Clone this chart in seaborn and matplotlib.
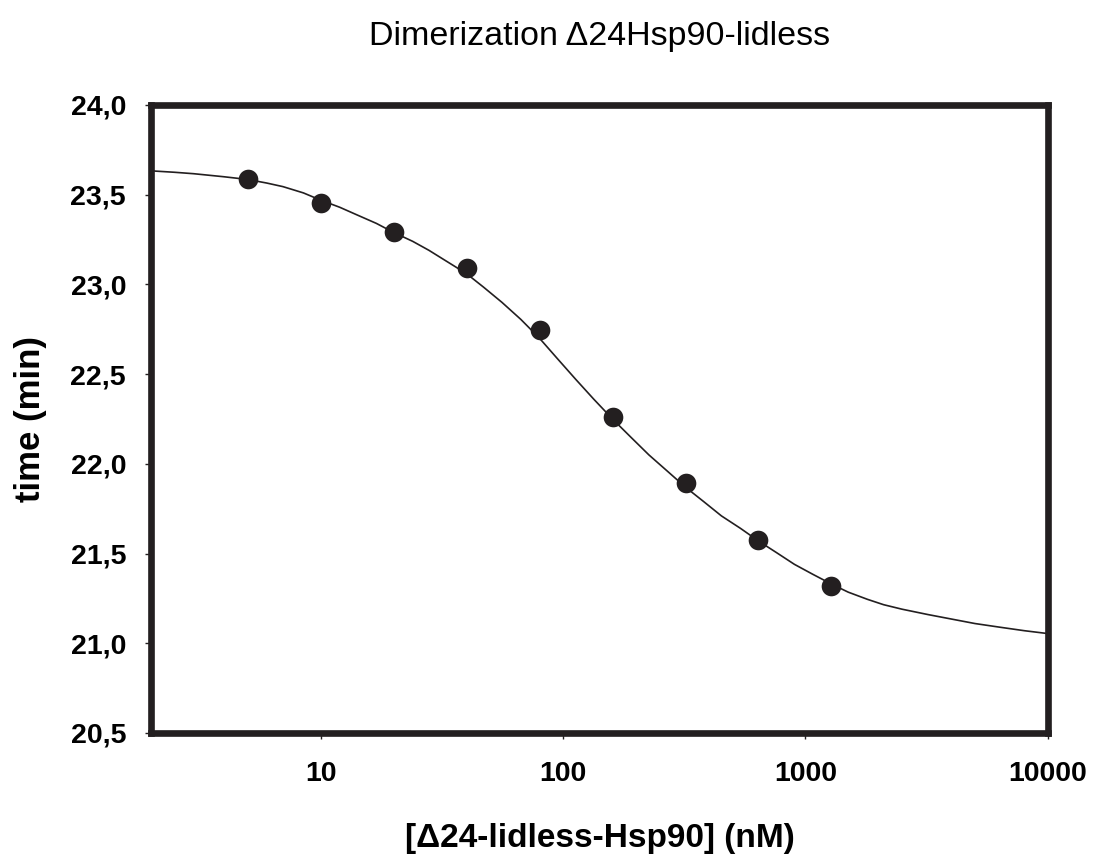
import matplotlib
matplotlib.use("Agg")
import matplotlib.pyplot as plt
import seaborn as sns
import pandas as pd

# measured points
conc = [5, 10, 20, 40, 80, 160, 320, 640, 1280]
time_min = [23.59, 23.456, 23.29, 23.09, 22.746, 22.262, 21.893, 21.576, 21.319]

# fitted curve
fit_conc = [2, 2.5, 3, 4, 5, 6, 7, 8.5, 10, 12, 14, 17, 20, 24, 28, 33, 40, 47,
            56, 67, 80, 95, 113, 134, 160, 190, 226, 269, 320, 380, 450, 540,
            640, 760, 900, 1070, 1280, 1500, 1800, 2100, 2500, 3200, 4000,
            5000, 6300, 8000, 10000]
fit_time = [23.633, 23.625, 23.617, 23.60, 23.585, 23.565, 23.545, 23.51,
            23.47, 23.43, 23.39, 23.34, 23.29, 23.24, 23.19, 23.13, 23.06,
            22.985, 22.90, 22.805, 22.70, 22.585, 22.47, 22.36, 22.25, 22.15,
            22.05, 21.96, 21.87, 21.79, 21.71, 21.64, 21.57, 21.505, 21.44,
            21.385, 21.33, 21.285, 21.245, 21.215, 21.19, 21.16, 21.135, 21.11,
            21.09, 21.07, 21.054]

y_ticks = [20.5, 21.0, 21.5, 22.0, 22.5, 23.0, 23.5, 24.0]
y_tick_labels = ["20,5", "21,0", "21,5", "22,0", "22,5", "23,0", "23,5", "24,0"]
x_ticks = [10, 100, 1000, 10000]
x_tick_labels = ["10", "100", "1000", "10000"]

ink = "#231f20"

sns.set_theme(style="ticks")
plt.rcParams["font.family"] = ["Liberation Sans", "DejaVu Sans"]

df = pd.DataFrame({"conc": conc, "time": time_min})
fit = pd.DataFrame({"conc": fit_conc, "time": fit_time})

fig = plt.figure(figsize=(10.93, 8.55), dpi=100)
ax = fig.add_axes([0.1382, 0.1427, 0.8206, 0.7345])

sns.lineplot(data=fit, x="conc", y="time", ax=ax, color=ink, linewidth=1.2,
             zorder=2, sort=False)
sns.scatterplot(data=df, x="conc", y="time", ax=ax, color=ink, s=200,
                edgecolor=ink, linewidth=0, zorder=3)

ax.set_xscale("log")
ax.set_xlim(2, 10000)
ax.set_ylim(20.5, 24.0)

ax.set_xticks(x_ticks)
ax.set_xticklabels(x_tick_labels)
ax.minorticks_off()
ax.set_yticks(y_ticks)
ax.set_yticklabels(y_tick_labels)

for lab in ax.get_xticklabels() + ax.get_yticklabels():
    lab.set_fontweight("bold")
    lab.set_fontsize(20.5)
    lab.set_color("black")

ax.tick_params(axis="both", direction="out", length=4, width=1, color=ink)
ax.tick_params(axis="x", pad=16)
ax.tick_params(axis="y", pad=14)

for sp in ax.spines.values():
    sp.set_visible(True)
    sp.set_linewidth(4.8)
    sp.set_color(ink)

ax.set_xlabel("[\u039424-lidless-Hsp90] (nM)", fontsize=24, fontweight="bold",
              labelpad=26, color="black")
ax.set_ylabel("time (min)", fontsize=25, fontweight="bold", labelpad=17,
              color="black")
ax.set_title("Dimerization \u039424Hsp90-lidless", fontsize=24.5, pad=43,
             color="black")

fig.savefig("out.png", dpi=100)
